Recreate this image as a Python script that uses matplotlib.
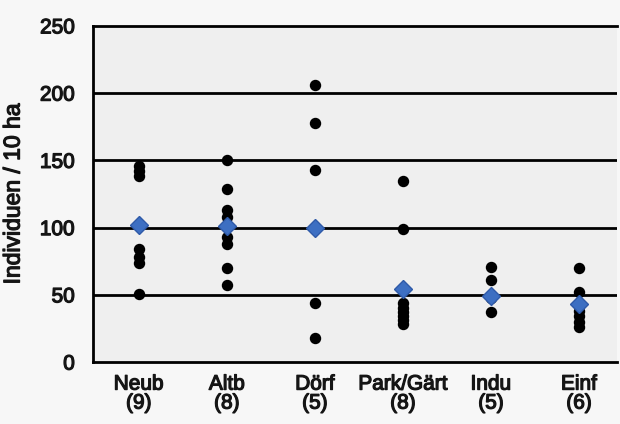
import matplotlib
matplotlib.use("Agg")
import matplotlib.pyplot as plt
import matplotlib.patheffects as pe

plt.rcParams['font.family'] = ['Liberation Sans', 'DejaVu Sans']

categories = ["Neub", "Altb", "Dörf", "Park/Gärt", "Indu", "Einf"]
counts = [9, 8, 5, 8, 5, 6]
values = [
    [146, 142, 138, 102, 101, 84, 78, 74, 51],
    [150, 129, 113, 108, 93, 88, 70, 57],
    [206, 178, 143, 44, 18],
    [135, 99, 44, 40, 37, 34, 31, 28],
    [71, 61, 50, 48, 37],
    [70, 52, 38, 34, 30, 26],
]
means = [102, 101, 100, 54, 49, 43]
yticks = [0, 50, 100, 150, 200, 250]

fig = plt.figure(figsize=(6.2, 4.24), dpi=100, facecolor='#f7f7f7')
ax = fig.add_axes([0.150, 0.146, 0.845, 0.793])
ax.set_facecolor('#efefef')

for i, vals in enumerate(values):
    ax.plot([i] * len(vals), vals, 'o', color='black', markersize=7.2, zorder=3)
ax.plot(range(len(means)), means, 'D', color='#3d6fc2', markeredgecolor='#2f5aa8',
        markersize=9.5, zorder=4)

for y in yticks[1:-1]:
    ax.axhline(y, color='black', lw=2, zorder=1)

heavy = [pe.withStroke(linewidth=0.9, foreground='#151515')]
tfont = dict(fontsize=15, color='#151515')
ax.set_ylim(0, 250)
ax.set_xlim(-0.52, 5.43)
ax.set_yticks(yticks)
ax.set_yticklabels([str(t) for t in yticks], **tfont)
ax.set_xticks(range(len(categories)))
ax.set_xticklabels([f"{c}\n({n})" for c, n in zip(categories, counts)],
                   linespacing=1.0, **tfont)
ax.tick_params(axis='y', length=0, pad=13)
ax.tick_params(axis='x', length=0, pad=9)
ax.set_ylabel("Individuen / 10 ha", fontsize=16.5, color='#151515', labelpad=11,
              path_effects=heavy)
for lab in ax.get_xticklabels() + ax.get_yticklabels():
    lab.set_path_effects(heavy)

for s in ['left', 'bottom', 'top']:
    ax.spines[s].set_linewidth(2)
    ax.spines[s].set_color('black')
ax.spines['right'].set_visible(False)

fig.savefig("out.png", dpi=100, facecolor=fig.get_facecolor())
